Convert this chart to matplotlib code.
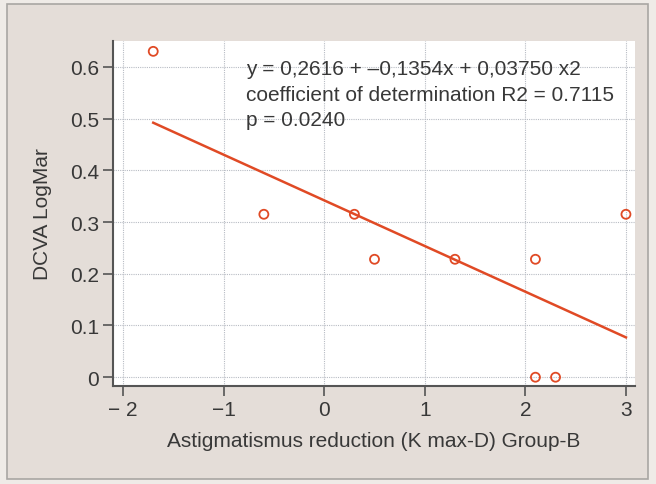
import matplotlib
matplotlib.use("Agg")
import matplotlib.pyplot as plt
from matplotlib.patches import Rectangle

# Data
x_vals = [-1.7, -0.6, 0.3, 0.5, 1.3, 2.1, 3.0, 2.1, 2.3]
y_vals = [0.63, 0.315, 0.315, 0.228, 0.228, 0.228, 0.315, 0.0, 0.0]
fit_x = [-1.7, 3.0]
fit_y = [0.492, 0.077]
x_ticks = [-2, -1, 0, 1, 2, 3]
x_tick_labels = ["\u2212 2", "\u22121", "0", "1", "2", "3"]
y_ticks = [0, 0.1, 0.2, 0.3, 0.4, 0.5, 0.6]
y_tick_labels = ["0", "0.1", "0.2", "0.3", "0.4", "0.5", "0.6"]
annotation = ["y = 0,2616 + \u20130,1354x + 0,03750 x2",
              "coefficient of determination R2 = 0.7115",
              "p = 0.0240"]
x_label = "Astigmatismus reduction (K max-D) Group-B"
y_label = "DCVA LogMar"

plt.rcParams['font.family'] = ['Liberation Sans', 'DejaVu Sans']

W, H = 656, 485
fig = plt.figure(figsize=(W / 100, H / 100), dpi=100)
fig.patch.set_facecolor('#efebe7')
bg = Rectangle((7 / W, 1 - 480 / H), (648 - 7) / W, (480 - 5) / H,
               transform=fig.transFigure, facecolor='#e4ddd8',
               edgecolor='#a9a6a3', linewidth=1.2, zorder=-10)
fig.add_artist(bg)

ax = fig.add_axes([113 / W, 1 - 387 / H, (635 - 113) / W, (387 - 42) / H])
ax.set_zorder(5)
ax.set_facecolor('white')
ax.set_xlim(-2.1, 3.09)
ax.set_ylim(-0.017, 0.65)

ax.grid(True, color='#b8bcc4', linestyle=(0, (1, 1)), linewidth=0.8)
ax.set_axisbelow(True)

red = '#e04a25'
ax.plot(fit_x, fit_y, color=red, linewidth=1.8, zorder=3)
ax.scatter(x_vals, y_vals, s=42, facecolors='none', edgecolors=red, linewidths=1.3, zorder=4)

ax.set_xticks(x_ticks)
ax.set_xticklabels(x_tick_labels)
ax.set_yticks(y_ticks)
ax.set_yticklabels(y_tick_labels)
ax.tick_params(axis='both', direction='out', length=7, width=1.2, color='#555555',
               labelsize=15, labelcolor='#383838', pad=3)

for s in ['top', 'right']:
    ax.spines[s].set_visible(False)
for s in ['left', 'bottom']:
    ax.spines[s].set_color('#555555')
    ax.spines[s].set_linewidth(1.5)

ax.set_xlabel(x_label, fontsize=15, color='#383838', labelpad=9)
ax.set_ylabel(y_label, fontsize=15, color='#383838', labelpad=13)

ax.text(0.254, 0.948, "\n".join(annotation), transform=ax.transAxes, fontsize=15,
        color='#383838', va='top', ha='left', linespacing=1.45)

fig.savefig('out.png', dpi=100, facecolor=fig.get_facecolor())
